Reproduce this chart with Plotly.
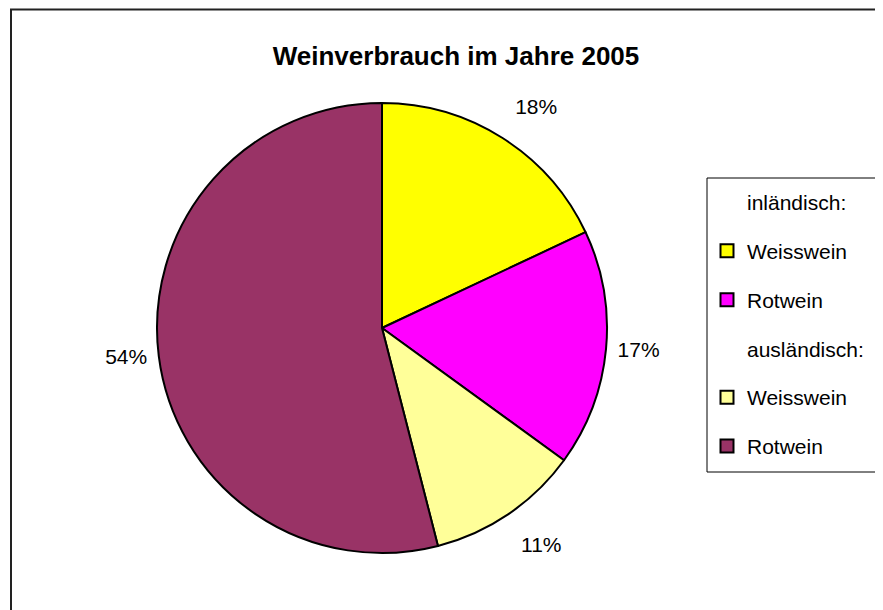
import plotly.graph_objects as go

# Data
slice_labels = ["inländisch Weisswein", "inländisch Rotwein", "ausländisch Weisswein", "ausländisch Rotwein"]
slice_values = [18, 17, 11, 54]
slice_colors = ["#FFFF00", "#FF00FF", "#FFFF99", "#993366"]

legend_names = ["inländisch:", "Weisswein", "Rotwein", "ausländisch:", "Weisswein", "Rotwein"]
legend_colors = [None, "#FFFF00", "#FF00FF", None, "#FFFF99", "#993366"]

title_text = "<b>Weinverbrauch im Jahre 2005</b>"

# page is offset by the 8px body margin; figure sized to fit the window
W, H = 875, 602
FONT = "Arial, Liberation Sans, sans-serif"
NB = "\u00a0"

fig = go.Figure()

# pie geometry in figure px: center (374, 320), radius 225
cx, cy, r = 374, 320, 225
fig.add_trace(go.Pie(
    labels=slice_labels,
    values=slice_values,
    sort=False,
    direction="clockwise",
    rotation=0,
    marker=dict(colors=slice_colors, line=dict(color="black", width=2)),
    texttemplate=["%{percent}<br>" + NB, NB + "%{percent}", NB + "<br>%{percent}", "%{percent}" + NB],
    textposition="outside",
    textfont=dict(family=FONT, size=21, color="black"),
    showlegend=False,
    domain=dict(x=[(cx - r) / W, (cx + r) / W], y=[(H - cy - r) / H, (H - cy + r) / H]),
    hoverinfo="label+percent",
))

for i, (name, col) in enumerate(zip(legend_names, legend_colors)):
    if col is None:
        marker = dict(symbol="square", size=13, color="rgba(0,0,0,0)", line=dict(width=0))
    else:
        marker = dict(symbol="square", size=13, color=col, line=dict(color="black", width=2))
    fig.add_trace(go.Scatter(
        x=[None], y=[None], mode="markers", name=name, marker=marker,
        legendgroup=f"g{i}", showlegend=True, hoverinfo="skip",
    ))

# legend frame (extends past the right edge like the reference)
lx0, ly0, lx1, ly1 = 699, 170, 885, 464

fig.update_layout(
    width=W, height=H,
    margin=dict(l=0, r=0, t=0, b=0),
    paper_bgcolor="white", plot_bgcolor="white",
    font=dict(family=FONT, size=21, color="black"),
    title=dict(text=title_text, x=448 / W, xanchor="center", y=1 - 48 / H, yanchor="middle",
               font=dict(family=FONT, size=26, color="black")),
    xaxis=dict(visible=False), yaxis=dict(visible=False),
    legend=dict(
        x=lx0 / W, xanchor="left", y=1 - ly0 / H, yanchor="top",
        borderwidth=0, bgcolor="rgba(0,0,0,0)",
        font=dict(family=FONT, size=21, color="black"),
        tracegroupgap=18.5, itemwidth=30, traceorder="grouped",
        title=dict(text=NB, font=dict(size=3)),
    ),
    shapes=[
        dict(type="rect", xref="paper", yref="paper",
             x0=3 / W, x1=1.02, y0=-0.03, y1=1 - 1.5 / H,
             line=dict(color="#222222", width=2), fillcolor="rgba(0,0,0,0)", layer="below"),
        dict(type="rect", xref="paper", yref="paper",
             x0=lx0 / W, x1=lx1 / W, y0=1 - ly1 / H, y1=1 - ly0 / H,
             line=dict(color="black", width=1), fillcolor="rgba(0,0,0,0)", layer="above"),
    ],
)

fig.write_html("out.html")
